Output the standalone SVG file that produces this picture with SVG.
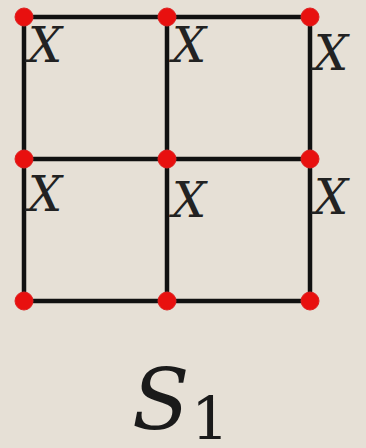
<svg xmlns="http://www.w3.org/2000/svg" width="366" height="448" viewBox="0 0 366 448">
<style>
.e{stroke:#111;stroke-width:4.5;stroke-linecap:butt;fill:none}
.v{fill:#e8100f;stroke:#d22;stroke-width:1}
.x{font-family:"DejaVu Serif","Liberation Serif",serif;font-style:italic;font-size:48px;fill:#222}
.s{font-family:"DejaVu Serif","Liberation Serif",serif;font-style:italic;font-size:84px;fill:#1a1a1a}
.n{font-family:"DejaVu Serif","Liberation Serif",serif;font-size:60px;fill:#1a1a1a}
</style>
<rect width="366" height="448" fill="#e6e0d6"/>
<g id="connectors">
<line class="e" x1="24" y1="17" x2="310" y2="17"/>
<line class="e" x1="24" y1="159" x2="310" y2="159"/>
<line class="e" x1="24" y1="301" x2="310" y2="301"/>
<line class="e" x1="24" y1="17" x2="24" y2="301"/>
<line class="e" x1="167" y1="17" x2="167" y2="301"/>
<line class="e" x1="310" y1="17" x2="310" y2="301"/>
</g>
<g id="v11"><circle class="v" cx="24" cy="17" r="9"/></g>
<g id="v12"><circle class="v" cx="167" cy="17" r="9"/></g>
<g id="v13"><circle class="v" cx="310" cy="17" r="9"/></g>
<g id="v21"><circle class="v" cx="24" cy="159" r="9"/></g>
<g id="v22"><circle class="v" cx="167" cy="159" r="9"/></g>
<g id="v23"><circle class="v" cx="310" cy="159" r="9"/></g>
<g id="v31"><circle class="v" cx="24" cy="301" r="9"/></g>
<g id="v32"><circle class="v" cx="167" cy="301" r="9"/></g>
<g id="v33"><circle class="v" cx="310" cy="301" r="9"/></g>
<g id="labels">
<text class="x" x="28" y="62">X</text>
<text class="x" x="172" y="62">X</text>
<text class="x" x="314" y="70">X</text>
<text class="x" x="28" y="211">X</text>
<text class="x" x="172" y="217">X</text>
<text class="x" x="314" y="214">X</text>
</g>
<g id="title">
<text class="s" x="132" y="429">S</text>
<text class="n" x="191" y="440">1</text>
</g>
</svg>
